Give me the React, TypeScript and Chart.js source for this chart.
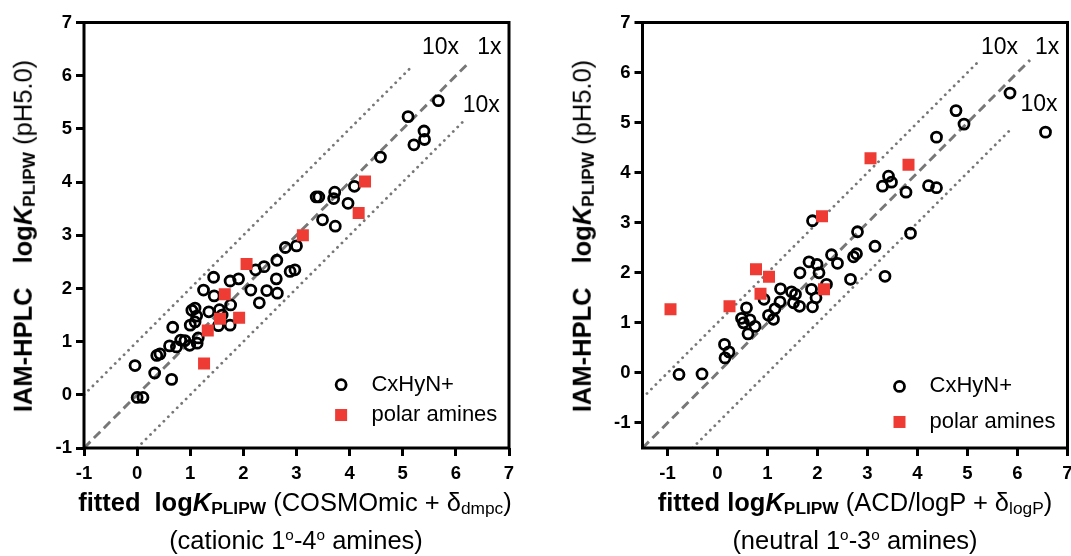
import React, { useEffect, useRef } from 'react';
import { Chart, registerables } from 'chart.js';
Chart.register(...registerables);

type Pt = [number, number];

const FONT = '"Liberation Sans", Arial, Helvetica, sans-serif';
const RED = '#EE3B34';
const GREY = '#777777';

// ---------- data ----------
const leftXTicks = [-1, 0, 1, 2, 3, 4, 5, 6, 7];
const leftYTicks = [-1, 0, 1, 2, 3, 4, 5, 6, 7];
const rightXTicks = [-1, 0, 1, 2, 3, 4, 5, 6, 7];
const rightYTicks = [-1, 0, 1, 2, 3, 4, 5, 6, 7];

const leftCxHyN: Pt[] = [
  [-0.04, 0.55], [0.0, -0.05], [0.11, -0.05], [0.33, 0.41], [0.37, 0.74], [0.43, 0.77],
  [0.65, 0.29], [0.61, 0.92], [0.67, 1.27], [0.74, 0.9], [0.82, 1.03], [0.9, 1.02],
  [0.99, 0.93], [1.0, 1.31], [1.03, 1.59], [1.09, 1.63], [1.09, 1.37], [1.12, 1.48],
  [1.13, 0.97], [1.15, 1.07], [1.25, 1.97], [1.35, 1.56], [1.44, 2.21], [1.45, 1.86],
  [1.53, 1.3], [1.55, 1.6], [1.6, 1.5], [1.75, 2.14], [1.91, 2.18], [1.76, 1.69],
  [1.75, 1.31], [2.14, 1.97], [2.23, 2.35], [2.39, 2.41], [2.3, 1.73], [2.44, 1.96],
  [2.63, 2.53], [2.62, 2.18], [2.64, 1.91], [2.79, 2.77], [2.88, 2.32], [2.97, 2.35],
  [3.0, 2.8], [3.37, 3.72], [3.42, 3.72], [3.49, 3.29], [3.72, 3.81], [3.7, 3.69],
  [3.73, 3.17], [3.97, 3.6], [4.09, 3.92], [4.58, 4.47], [5.1, 5.23], [5.21, 4.7],
  [5.4, 4.96], [5.41, 4.8], [5.67, 5.53],
];
const leftPolar: Pt[] = [
  [1.26, 0.59], [1.33, 1.21], [1.56, 1.43], [1.65, 1.89], [1.92, 1.45], [2.06, 2.46],
  [3.12, 3.0], [4.17, 3.42], [4.29, 4.01],
];

const rightCxHyN: Pt[] = [
  [-0.77, -0.03], [-0.31, -0.02], [0.14, 0.57], [0.23, 0.42], [0.15, 0.3], [0.48, 1.09],
  [0.52, 1.0], [0.58, 1.3], [0.65, 1.06], [0.61, 0.78], [0.75, 0.93], [0.93, 1.47],
  [1.02, 1.15], [1.12, 1.07], [1.15, 1.28], [1.25, 1.42], [1.26, 1.68], [1.48, 1.62],
  [1.56, 1.57], [1.52, 1.4], [1.64, 1.33], [1.65, 2.0], [1.83, 2.22], [1.99, 2.17],
  [2.03, 2.0], [1.88, 1.67], [1.97, 1.5], [1.9, 1.32], [2.18, 1.77], [1.9, 3.04],
  [2.28, 2.36], [2.4, 2.19], [2.66, 1.87], [2.72, 2.32], [2.78, 2.38], [2.8, 2.82],
  [3.15, 2.53], [3.35, 1.93], [3.3, 3.73], [3.42, 3.93], [3.48, 3.81], [3.77, 3.61],
  [3.86, 2.79], [4.22, 3.74], [4.38, 3.7], [4.38, 4.71], [4.77, 5.24], [4.93, 4.97],
  [5.85, 5.59], [6.56, 4.81],
];
const rightPolar: Pt[] = [
  [-0.94, 1.27], [0.24, 1.33], [0.77, 2.07], [0.86, 1.58], [1.03, 1.92], [2.09, 3.13],
  [2.13, 1.67], [3.06, 4.29], [3.82, 4.16],
];

// reference lines (1x = identity, 10x = +/- 1 log unit)
const leftLine1x: Pt[] = [[-1, -1], [6.25, 6.25]];
const leftLineUp: Pt[] = [[-1, 0], [5.2, 6.2]];
const leftLineDown: Pt[] = [[0, -1], [6.15, 5.15]];
const rightLine1x: Pt[] = [[-1.5, -1.5], [6.25, 6.25]];
const rightLineUp: Pt[] = [[-1.5, -0.5], [5.2, 6.2]];
const rightLineDown: Pt[] = [[-0.5, -1.5], [5.9, 4.9]];

const legendLabels = ['CxHyN+', 'polar amines'];
const lineLabels = ['10x', '1x', '10x'];

// ---------- panel settings ----------
const leftPanel = {
  circles: leftCxHyN, squares: leftPolar,
  line1x: leftLine1x, lineUp: leftLineUp, lineDown: leftLineDown,
  xTicks: leftXTicks, yTicks: leftYTicks,
  xMin: -1, xMax: 7, yMin: -1, yMax: 7,
  labelPos: [[5.36, 6.41], [6.4, 6.41], [6.13, 5.31]] as Pt[],
  legend: { markerX: 3.84, textX: 4.41, rows: [0.19, -0.38] },
  padding: { left: 24, right: 31, top: 22.5, bottom: 48 },
};
const rightPanel = {
  circles: rightCxHyN, squares: rightPolar,
  line1x: rightLine1x, lineUp: rightLineUp, lineDown: rightLineDown,
  xTicks: rightXTicks, yTicks: rightYTicks,
  xMin: -1.5, xMax: 7, yMin: -1.5, yMax: 7,
  labelPos: [[5.27, 6.38], [6.35, 6.38], [6.06, 5.23]] as Pt[],
  legend: { markerX: 3.64, textX: 4.24, rows: [-0.27, -0.98] },
  padding: { left: 42.5, right: 32.5, top: 22.5, bottom: 48 },
};

type Panel = typeof leftPanel;

const toXY = (a: Pt[]) => a.map(([x, y]) => ({ x, y }));

function axis(ticks: number[], min: number, max: number, isX: boolean) {
  return {
    type: 'linear' as const,
    min, max,
    afterBuildTicks: (s: any) => { s.ticks = ticks.map((v) => ({ value: v })); },
    afterFit: (s: any) => {
      if (isX) s.height = 60; else s.width = 60;
      s.paddingLeft = 0; s.paddingRight = 0; s.paddingTop = 0; s.paddingBottom = 0;
    },
    border: { display: false },
    grid: {
      display: true, drawOnChartArea: false, drawTicks: true,
      tickLength: 8, tickWidth: 3, tickColor: '#000', color: '#000',
    },
    ticks: {
      color: '#000', autoSkip: false, maxRotation: 0,
      padding: isX ? 7 : 4,
      font: { family: FONT, size: 18.5, weight: 'bold' as const },
    },
  };
}

const CIRCLE_R = 5;
const CIRCLE_W = 2.8;
const SQUARE_SIDE = 12;

function makeChart(canvas: HTMLCanvasElement, p: Panel) {
  const overlay = {
    id: 'overlay',
    afterDraw(chart: any) {
      const { ctx, chartArea: a } = chart;
      const xs = chart.scales.x;
      const ys = chart.scales.y;
      ctx.save();
      ctx.strokeStyle = '#000';
      ctx.lineWidth = 3;
      ctx.strokeRect(a.left, a.top, a.right - a.left, a.bottom - a.top);
      ctx.fillStyle = '#000';
      ctx.font = `23px ${FONT}`;
      ctx.textAlign = 'left';
      ctx.textBaseline = 'alphabetic';
      p.labelPos.forEach(([lx, ly], i) => {
        ctx.fillText(lineLabels[i], xs.getPixelForValue(lx), ys.getPixelForValue(ly));
      });
      const mx = xs.getPixelForValue(p.legend.markerX);
      const tx = xs.getPixelForValue(p.legend.textX);
      const r0 = ys.getPixelForValue(p.legend.rows[0]);
      const r1 = ys.getPixelForValue(p.legend.rows[1]);
      ctx.beginPath();
      ctx.arc(mx, r0, CIRCLE_R, 0, Math.PI * 2);
      ctx.lineWidth = CIRCLE_W;
      ctx.strokeStyle = '#000';
      ctx.stroke();
      ctx.fillStyle = RED;
      ctx.fillRect(mx - SQUARE_SIDE / 2, r1 - SQUARE_SIDE / 2, SQUARE_SIDE, SQUARE_SIDE);
      ctx.fillStyle = '#000';
      ctx.font = `22px ${FONT}`;
      ctx.textBaseline = 'middle';
      ctx.fillText(legendLabels[0], tx, r0);
      ctx.fillText(legendLabels[1], tx, r1);
      ctx.restore();
    },
  };

  const lineDs = (pts: Pt[], dash: number[], width: number, cap: string) => ({
    data: toXY(pts), showLine: true, pointRadius: 0, pointHoverRadius: 0,
    borderColor: GREY, borderWidth: width, borderDash: dash, borderCapStyle: cap,
    fill: false, tension: 0,
  });

  const rectR = SQUARE_SIDE / 2 / Math.SQRT1_2;

  return new Chart(canvas, {
    type: 'scatter',
    data: {
      datasets: [
        {
          label: legendLabels[1], data: toXY(p.squares), pointStyle: 'rect',
          pointRadius: rectR, pointHoverRadius: rectR, pointBackgroundColor: RED,
          pointBorderWidth: 0, pointBorderColor: RED,
        } as any,
        {
          label: legendLabels[0], data: toXY(p.circles), pointStyle: 'circle',
          pointRadius: CIRCLE_R, pointHoverRadius: CIRCLE_R, pointBackgroundColor: 'rgba(0,0,0,0)',
          pointBorderColor: '#000', pointBorderWidth: CIRCLE_W,
        } as any,
        lineDs(p.line1x, [9, 5], 2.9, 'butt') as any,
        lineDs(p.lineUp, [0.1, 6.2], 2.8, 'round') as any,
        lineDs(p.lineDown, [0.1, 6.2], 2.8, 'round') as any,
      ],
    },
    options: {
      animation: false,
      responsive: false,
      events: [],
      layout: { padding: p.padding },
      plugins: { legend: { display: false }, tooltip: { enabled: false } },
      scales: {
        x: axis(p.xTicks, p.xMin, p.xMax, true) as any,
        y: axis(p.yTicks, p.yMin, p.yMax, false) as any,
      },
    },
    plugins: [overlay as any],
  });
}

// ---------- titles ----------
const TITLE_SIZE = 25.5;
const subBold: React.CSSProperties = { fontSize: '0.68em', position: 'relative', top: '0.2em', fontWeight: 'bold' };
const subReg: React.CSSProperties = { fontSize: '0.68em', position: 'relative', top: '0.2em' };
const supO: React.CSSProperties = { fontSize: '0.6em', position: 'relative', top: '-0.55em' };

function LogK() {
  return (
    <b>
      log<i>K</i><span style={subBold}>PLIPW</span>
    </b>
  );
}

function YTitle({ cx, cy }: { cx: number; cy: number }) {
  return (
    <div
      style={{
        position: 'absolute', left: cx, top: cy, transform: 'translate(-50%,-50%) rotate(-90deg)',
        whiteSpace: 'nowrap', fontSize: TITLE_SIZE, lineHeight: `${TITLE_SIZE}px`, color: '#000',
      }}
    >
      <b style={{ marginRight: 24 }}>IAM-HPLC</b>
      <LogK />
      <span>{' (pH5.0)'}</span>
    </div>
  );
}

function Line({ cx, top, children }: { cx: number; top: number; children: React.ReactNode }) {
  return (
    <div
      style={{
        position: 'absolute', left: cx - 300, width: 600, top, textAlign: 'center',
        whiteSpace: 'nowrap', fontSize: TITLE_SIZE, lineHeight: `${TITLE_SIZE}px`, color: '#000',
      }}
    >
      {children}
    </div>
  );
}

export default function App() {
  const leftRef = useRef<HTMLCanvasElement>(null);
  const rightRef = useRef<HTMLCanvasElement>(null);

  useEffect(() => {
    const c1 = makeChart(leftRef.current!, leftPanel);
    const c2 = makeChart(rightRef.current!, rightPanel);
    return () => { c1.destroy(); c2.destroy(); };
  }, []);

  return (
    <div
      style={{
        position: 'absolute', left: 0, top: 0, width: 1071, height: 556, overflow: 'hidden',
        background: '#fff', fontFamily: FONT,
      }}
    >
      <canvas ref={leftRef} width={540} height={556} style={{ position: 'absolute', left: 0, top: 0 }} />
      <canvas ref={rightRef} width={560} height={556} style={{ position: 'absolute', left: 540, top: 0 }} />
      <YTitle cx={25} cy={236} />
      <YTitle cx={584} cy={236} />
      <Line cx={295} top={490}>
        <b>fitted</b>
        <span style={{ marginLeft: 14 }} />
        <LogK />
        {' (COSMOmic + δ'}
        <span style={subReg}>dmpc</span>
        {')'}
      </Line>
      <Line cx={296} top={527.5}>
        {'(cationic 1'}<span style={supO}>o</span>{'-4'}<span style={supO}>o</span>{' amines)'}
      </Line>
      <Line cx={855} top={490}>
        <b>fitted</b>
        {' '}
        <LogK />
        {' (ACD/logP + δ'}
        <span style={subReg}>logP</span>
        {')'}
      </Line>
      <Line cx={855} top={527.5}>
        {'(neutral 1'}<span style={supO}>o</span>{'-3'}<span style={supO}>o</span>{' amines)'}
      </Line>
    </div>
  );
}
